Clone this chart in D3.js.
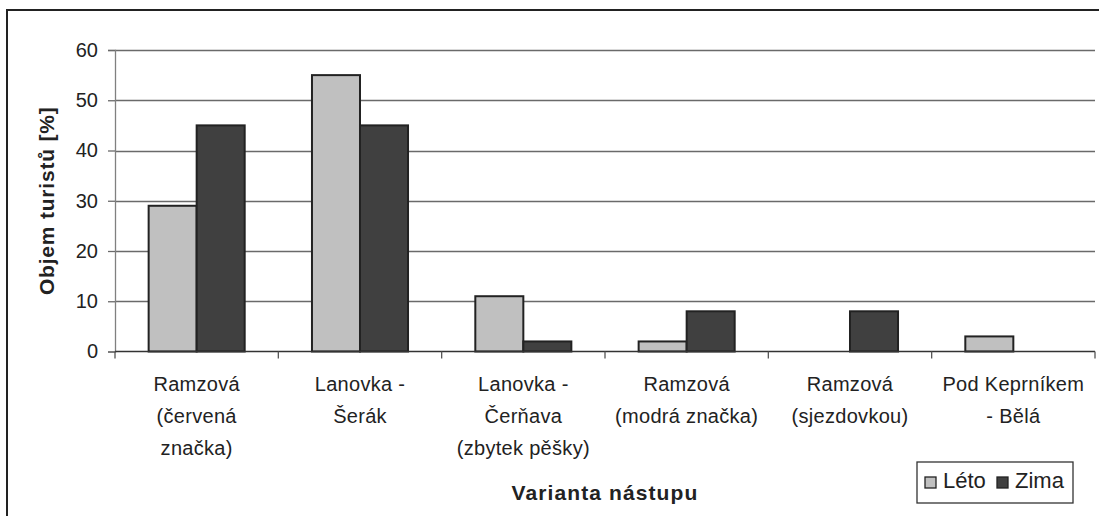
<!DOCTYPE html>
<html>
<head>
<meta charset="utf-8">
<style>
body, html {
	margin: 0;
	background: #fff;
}
svg text {
	font-family: "Liberation Sans", Arial, sans-serif;
	fill: #222;
}
</style>
</head>
<body>
<div id="chart"></div>
<script src="https://cdn.jsdelivr.net/npm/d3@7"></script>
<script>

// data
var categories = [
	["Ramzová", "(červená", "značka)"],
	["Lanovka -", "Šerák"],
	["Lanovka -", "Čerňava", "(zbytek pěšky)"],
	["Ramzová", "(modrá značka)"],
	["Ramzová", "(sjezdovkou)"],
	["Pod Keprníkem", "- Bělá"]
];
var seriesNames = ["Léto", "Zima"];
var leto = [29, 55, 11, 2, 0, 3];
var zima = [45, 45, 2, 8, 8, 0];
var yTicks = [0, 10, 20, 30, 40, 50, 60];

const WIDTH = 1099;
const HEIGHT = 516;
const COLORS = ["#c0c0c0", "#404040"];

const margin = {top: 50, left: 115, right: 4, bottom: 165};
const plotW = 1095 - margin.left;
const plotH = 351.5 - margin.top;

var svg = d3.select("#chart").append("svg")
	.attr("width", WIDTH)
	.attr("height", HEIGHT);

// outer frame (cut off at right and bottom)
svg.append("path")
	.attr("d", `M7,${HEIGHT} L7,10 L${WIDTH},10`)
	.attr("fill", "none")
	.attr("stroke", "#222")
	.attr("stroke-width", 2);

var chart = svg.append("g").attr("transform", `translate(${margin.left},${margin.top})`);

var x0 = d3.scaleBand()
	.domain(d3.range(categories.length))
	.range([0, plotW]);

var groupPad = x0.bandwidth() * 0.206;
var x1 = d3.scaleBand()
	.domain(seriesNames)
	.range([groupPad, x0.bandwidth() - groupPad]);

var y = d3.scaleLinear()
	.domain([0, 60])
	.range([plotH, 0]);

// gridlines
chart.append("g").selectAll("line")
	.data(yTicks.filter(d => d > 0))
	.enter().append("line")
		.attr("x1", 0)
		.attr("x2", plotW)
		.attr("y1", d => Math.round(y(d)) + 0.5)
		.attr("y2", d => Math.round(y(d)) + 0.5)
		.attr("stroke", "#6a6a6a")
		.attr("stroke-width", 1.3);

// bars
var rows = categories.map((c, i) => ({i: i, values: [leto[i], zima[i]]}));

var groups = chart.append("g").selectAll("g")
	.data(rows)
	.enter().append("g")
		.attr("transform", d => `translate(${x0(d.i)},0)`);

groups.selectAll("rect")
	.data(d => d.values.map((v, k) => ({key: seriesNames[k], value: v, k: k})).filter(e => e.value > 0))
	.enter().append("rect")
		.attr("x", d => x1(d.key))
		.attr("width", x1.bandwidth())
		.attr("y", d => y(d.value))
		.attr("height", d => y(0) - y(d.value))
		.attr("fill", d => COLORS[d.k])
		.attr("stroke", "#222")
		.attr("stroke-width", 2);

// y axis
var yAxis = d3.axisLeft(y)
	.tickValues(yTicks)
	.tickSize(7)
	.tickPadding(10);

var yG = chart.append("g").call(yAxis);
yG.select(".domain").attr("stroke", "#808080").attr("stroke-width", 1.3);
yG.selectAll(".tick line").attr("stroke", "#6a6a6a").attr("stroke-width", 1.3);
yG.selectAll("text")
	.style("font-family", '"Liberation Sans", Arial, sans-serif')
	.style("font-size", "20px")
	.attr("fill", "#222");

// x axis baseline and category separators
var xG = chart.append("g").attr("transform", `translate(0,${plotH})`);
xG.append("line")
	.attr("x1", 0).attr("x2", plotW)
	.attr("y1", 0).attr("y2", 0)
	.attr("stroke", "#333")
	.attr("stroke-width", 1.5);
xG.selectAll(".sep")
	.data(d3.range(categories.length + 1))
	.enter().append("line")
		.attr("class", "sep")
		.attr("x1", d => d === categories.length ? plotW : x0(d))
		.attr("x2", d => d === categories.length ? plotW : x0(d))
		.attr("y1", 0).attr("y2", 7)
		.attr("stroke", "#555")
		.attr("stroke-width", 1.3);

// category labels
var labels = xG.selectAll(".cat")
	.data(categories)
	.enter().append("text")
		.attr("class", "cat")
		.attr("text-anchor", "middle")
		.style("font-size", "20px")
		.style("letter-spacing", "0.3px")
		.attr("transform", (d, i) => `translate(${x0(i) + x0.bandwidth() / 2},0)`);

labels.selectAll("tspan")
	.data(d => d)
	.enter().append("tspan")
		.attr("x", 0)
		.attr("y", (d, j) => 39 + j * 32)
		.text(d => d);

// axis titles
svg.append("text")
	.attr("x", margin.left + plotW / 2)
	.attr("y", 500)
	.attr("text-anchor", "middle")
	.style("font-size", "21px")
	.style("font-weight", "bold")
	.style("letter-spacing", "1.1px")
	.text("Varianta nástupu");

svg.append("text")
	.attr("transform", `translate(54,${margin.top + plotH / 2}) rotate(-90)`)
	.attr("text-anchor", "middle")
	.style("font-size", "21px")
	.style("font-weight", "bold")
	.style("letter-spacing", "0.8px")
	.text("Objem turistů [%]");

// legend
var legend = svg.append("g").attr("transform", "translate(917,462)");
legend.append("rect")
	.attr("width", 156)
	.attr("height", 41)
	.attr("fill", "#fff")
	.attr("stroke", "#333")
	.attr("stroke-width", 1.3);

var legendX = [8, 80];
var items = legend.selectAll(".item")
	.data(seriesNames)
	.enter().append("g")
		.attr("class", "item")
		.attr("transform", (d, i) => `translate(${legendX[i]},0)`);

items.append("rect")
	.attr("x", 0)
	.attr("y", 15)
	.attr("width", 11)
	.attr("height", 11)
	.attr("fill", (d, i) => COLORS[i])
	.attr("stroke", "#222")
	.attr("stroke-width", 1.3);

items.append("text")
	.attr("x", 18)
	.attr("y", 26)
	.style("font-size", "22px")
	.text(d => d);

</script>
</body>
</html>
